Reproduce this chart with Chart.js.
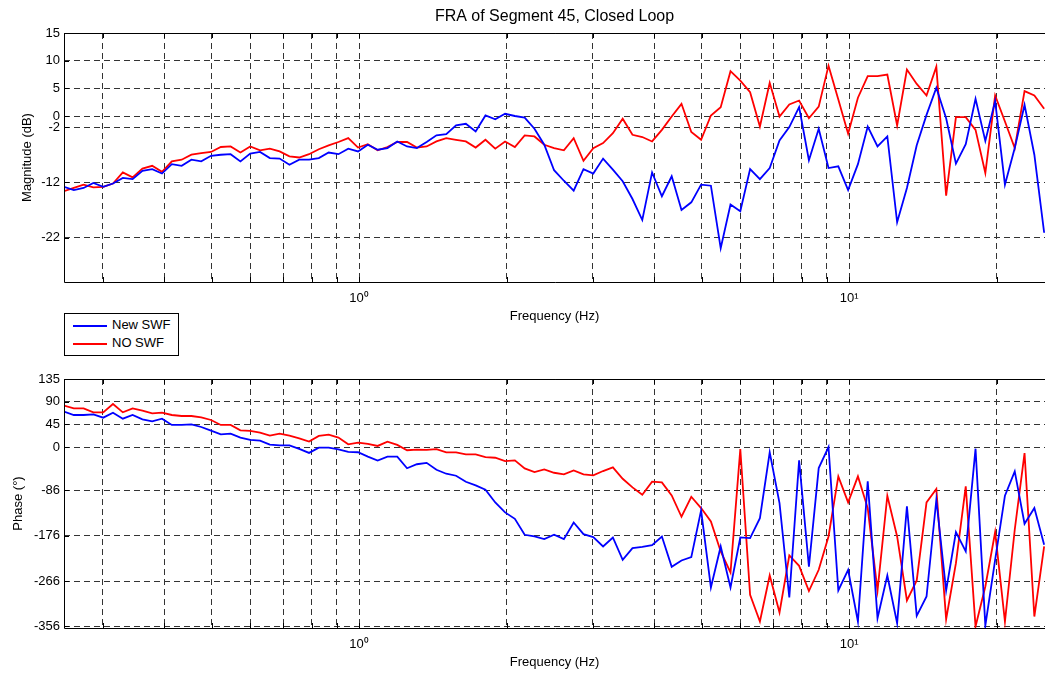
<!DOCTYPE html>
<html>
<head>
<meta charset="utf-8">
<script src="https://cdn.jsdelivr.net/npm/chart.js@4.4.1/dist/chart.umd.min.js"></script>
<style>
  html, body { margin: 0; padding: 0; background: #fff; overflow: hidden; }
  #wrap { position: relative; width: 1045px; height: 676px; overflow: hidden;
          font-family: 'Liberation Sans', Arial, sans-serif; }
  canvas { position: absolute; left: 0; }
  #magChart { top: 0; }
  #phaseChart { top: 346px; }
  #legend { position: absolute; left: 64px; top: 313px; width: 113px; height: 39px;
            border: 1px solid #000; background: #fff; font-size: 13px; color: #000;
            padding-top: 2px; box-sizing: content-box; }
  #legend .row { height: 18px; line-height: 18px; white-space: nowrap; }
  #legend .swatch { display: inline-block; width: 34px; height: 0; margin: 0 5px 0 8px;
                    vertical-align: middle; border-top: 2px solid; }
</style>
</head>
<body>
<div id="wrap">
  <canvas id="magChart" width="1045" height="330"></canvas>
  <canvas id="phaseChart" width="1045" height="330"></canvas>
  <div id="legend"></div>
</div>
<script>
// frequency points (Hz), log spaced
const freq = [
  0.2500, 0.2618, 0.2741, 0.2870, 0.3006, 0.3147, 0.3296, 0.3451, 0.3614, 0.3784,
  0.3962, 0.4149, 0.4345, 0.4549, 0.4764, 0.4988, 0.5223, 0.5469, 0.5727, 0.5997,
  0.6280, 0.6576, 0.6886, 0.7210, 0.7550, 0.7906, 0.8278, 0.8669, 0.9077, 0.9505,
  0.9953, 1.0422, 1.0913, 1.1427, 1.1966, 1.2530, 1.3120, 1.3738, 1.4386, 1.5064,
  1.5774, 1.6517, 1.7296, 1.8111, 1.8964, 1.9858, 2.0794, 2.1774, 2.2800, 2.3875,
  2.5000, 2.6178, 2.7412, 2.8704, 3.0057, 3.1473, 3.2956, 3.4510, 3.6136, 3.7839,
  3.9622, 4.1490, 4.3445, 4.5492, 4.7636, 4.9881, 5.2233, 5.4694, 5.7272, 5.9971,
  6.2797, 6.5757, 6.8856, 7.2101, 7.5499, 7.9057, 8.2783, 8.6685, 9.0770, 9.5048,
  9.9527, 10.422, 10.913, 11.427, 11.966, 12.530, 13.120, 13.738, 14.386, 15.064,
  15.774, 16.517, 17.296, 18.111, 18.964, 19.858, 20.794, 21.774, 22.800, 23.875,
  25.000
];

// magnitude (dB)
const magNew = [
  -12.8, -13.4, -13.0, -12.1, -12.8, -12.2, -11.2, -11.4, -9.9, -9.6,
  -10.4, -8.7, -9.0, -7.9, -8.2, -7.2, -7.0, -6.9, -8.2, -6.8,
  -6.5, -7.6, -7.7, -8.8, -7.9, -7.9, -7.6, -6.6, -6.9, -5.9,
  -6.4, -5.2, -6.1, -5.8, -4.6, -5.5, -5.8, -4.7, -3.5, -3.3,
  -1.7, -1.4, -2.8, 0.1, -0.6, 0.4, 0.0, -0.3, -2.3, -5.2,
  -9.8, -11.7, -13.5, -9.6, -10.4, -7.7, -9.7, -11.8, -15.0, -18.8,
  -10.2, -14.5, -10.9, -17.0, -15.6, -12.4, -12.6, -23.9, -16.0, -17.2,
  -9.6, -11.4, -9.4, -4.4, -2.0, 1.6, -8.0, -2.3, -9.4, -9.1,
  -13.4, -8.7, -1.9, -5.5, -3.7, -19.2, -13.0, -5.3, 0.2, 5.1,
  -0.4, -8.6, -5.1, 3.1, -4.5, 2.7, -12.4, -5.8, 2.0, -7.0,
  -21.1
];
const magNo = [
  -13.6, -13.0, -12.4, -12.9, -12.8, -12.2, -10.2, -11.1, -9.5, -9.0,
  -10.1, -8.2, -7.9, -7.0, -6.7, -6.5, -5.6, -5.5, -6.6, -5.5,
  -6.2, -5.9, -6.4, -7.3, -7.5, -6.9, -6.0, -5.3, -4.7, -4.0,
  -5.7, -5.1, -6.2, -5.6, -4.7, -4.7, -5.7, -5.5, -4.6, -4.0,
  -4.3, -4.6, -5.7, -4.3, -5.9, -4.6, -5.6, -3.5, -3.7, -5.2,
  -5.8, -6.2, -4.0, -8.1, -5.8, -4.9, -3.1, -0.5, -3.4, -3.8,
  -4.6, -2.5, -0.1, 2.2, -2.9, -4.3, 0.1, 1.6, 8.1, 6.4,
  4.3, -1.9, 6.0, -0.1, 2.1, 2.8, -0.4, 1.7, 9.1, 3.0,
  -3.2, 3.3, 7.2, 7.2, 7.5, -1.7, 8.4, 5.8, 3.7, 8.9,
  -14.4, -0.2, -0.2, -2.5, -10.3, 3.7, -1.0, -5.8, 4.5, 3.7,
  1.3
];

// phase (deg)
const phaseNew = [
  70.2, 63.6, 63.6, 64.9, 58.3, 68.2, 56.3, 63.6, 55.0, 51.1,
  56.3, 43.8, 43.8, 45.1, 39.8, 32.6, 25.3, 26.6, 18.7, 14.1,
  12.8, 4.9, 3.5, 3.5, -3.7, -11.6, -1.1, -1.1, -4.4, -9.7,
  -10.3, -18.9, -26.8, -18.9, -18.9, -42.0, -34.1, -31.3, -45.0, -52.9,
  -56.9, -68.8, -76.1, -84.7, -109.9, -129.7, -142.3, -174.1, -177.4, -182.7,
  -174.1, -182.7, -149.6, -172.7, -178.7, -197.2, -179.4, -223.7, -200.5, -197.9,
  -194.6, -177.4, -237.6, -225.0, -218.4, -125.7, -278.6, -197.2, -278.6, -179.4,
  -180.7, -141.0, -10.6, -111.2, -298.5, -26.5, -237.5, -41.7, 0.0, -284.6,
  -243.5, -346.1, -68.2, -339.5, -254.8, -349.4, -117.8, -334.9, -296.5, -104.6,
  -284.6, -168.8, -207.1, -3.3, -354.1, -223.7, -96.6, -48.3, -152.2, -121.1,
  -193.9
];
const phaseNo = [
  82.1, 76.8, 76.8, 68.9, 68.9, 85.4, 68.9, 76.8, 72.2, 66.9,
  68.2, 63.6, 61.6, 61.6, 59.0, 53.7, 43.8, 43.8, 33.2, 31.9,
  28.6, 22.7, 26.6, 22.7, 17.4, 10.8, 22.0, 24.7, 18.7, 5.5,
  8.8, 6.2, 2.2, 10.8, 4.2, -6.4, -5.0, -5.8, -4.0, -10.6,
  -10.6, -14.6, -14.6, -19.9, -21.2, -27.8, -26.5, -42.4, -49.6, -44.3,
  -51.0, -54.3, -46.3, -54.3, -56.3, -47.6, -40.4, -62.9, -80.1, -94.6,
  -68.8, -70.2, -96.0, -138.3, -98.6, -121.1, -147.6, -207.1, -248.8, -4.0,
  -293.2, -346.1, -254.8, -328.3, -215.1, -235.6, -285.6, -243.5, -177.4, -58.2,
  -109.9, -58.2, -121.1, -284.6, -96.6, -177.4, -304.4, -264.7, -109.9, -83.4,
  -341.5, -230.3, -78.1, -356.1, -276.6, -168.8, -346.1, -164.1, -11.9, -336.2,
  -197.2
];

const xGridTicks = [0.3, 0.4, 0.5, 0.6, 0.7, 0.8, 0.9, 1, 2, 3, 4, 5, 6, 7, 8, 9, 10, 20];
const magTicks = [15, 10, 5, 0, -2, -12, -22];
const phaseTicks = [135, 90, 45, 0, -86, -176, -266, -356];
const seriesNames = ['New SWF', 'NO SWF'];
const seriesColors = ['#0000ff', '#ff0000'];

Chart.defaults.font.family = "'Liberation Sans', Arial, sans-serif";
Chart.defaults.font.size = 13;
Chart.defaults.color = '#000';

// black box on top/left/bottom, inward tick marks and the figure title
const framePlugin = {
  id: 'frame',
  afterDraw(chart, args, opts) {
    const { ctx, chartArea: a } = chart;
    const px = v => Math.round(v) + 0.5;
    ctx.save();
    ctx.setLineDash([]);
    ctx.strokeStyle = '#000';
    ctx.lineWidth = 1;
    ctx.beginPath();
    ctx.moveTo(a.right + 1, px(a.top));
    ctx.lineTo(px(a.left), px(a.top));
    ctx.lineTo(px(a.left), px(a.bottom));
    ctx.lineTo(a.right + 1, px(a.bottom));
    xGridTicks.forEach(v => {
      const x = px(chart.scales.x.getPixelForValue(v));
      ctx.moveTo(x, a.top); ctx.lineTo(x, a.top + 5);
      ctx.moveTo(x, a.bottom); ctx.lineTo(x, a.bottom - 5);
    });
    chart.scales.y.ticks.forEach(t => {
      const y = px(chart.scales.y.getPixelForValue(t.value));
      ctx.moveTo(a.left, y); ctx.lineTo(a.left + 5, y);
    });
    ctx.stroke();
    if (opts.title) {
      ctx.fillStyle = '#000';
      ctx.font = "16px 'Liberation Sans', Arial, sans-serif";
      ctx.textAlign = 'center';
      ctx.textBaseline = 'middle';
      ctx.fillText(opts.title, (a.left + a.right) / 2, 17);
    }
    ctx.restore();
  }
};

function points(ys) {
  return freq.map((f, i) => ({ x: f, y: ys[i] }));
}

function makeChart(id, series, yMin, yMax, yTicks, yTitle, yTitlePad, title) {
  const ctx = document.getElementById(id).getContext('2d');
  return new Chart(ctx, {
    type: 'line',
    data: {
      datasets: series.map((ys, i) => ({
        label: seriesNames[i],
        data: points(ys),
        borderColor: seriesColors[i],
        borderWidth: 1.8,
        pointRadius: 0,
        tension: 0,
        fill: false
      }))
    },
    options: {
      responsive: false,
      animation: false,
      layout: { padding: { top: 33, left: 0, right: 0, bottom: 0 } },
      scales: {
        x: {
          type: 'logarithmic',
          min: 0.25,
          max: 25.1,
          afterBuildTicks: s => { s.ticks = xGridTicks.map(v => ({ value: v })); },
          afterFit: s => { s.height = 48; },
          grid: { color: '#333', lineWidth: 1, drawTicks: false },
          border: { display: false, dash: [6, 4] },
          ticks: {
            autoSkip: false, maxRotation: 0, padding: 9,
            callback: v => (v === 1 ? '10\u2070' : v === 10 ? '10\u00b9' : '')
          },
          title: { display: true, text: 'Frequency (Hz)', padding: { top: 0, bottom: 6 } }
        },
        y: {
          min: yMin,
          max: yMax,
          afterBuildTicks: s => { s.ticks = yTicks.map(v => ({ value: v })); },
          afterFit: s => { s.width = 64; },
          grid: { color: '#333', lineWidth: 1, drawTicks: false },
          border: { display: false, dash: [6, 4] },
          ticks: { autoSkip: false, padding: 4 },
          title: { display: true, text: yTitle, padding: { top: yTitlePad, bottom: 0 } }
        }
      },
      plugins: {
        legend: { display: false },
        tooltip: { enabled: false },
        frame: { title: title }
      }
    },
    plugins: [framePlugin]
  });
}

makeChart('magChart', [magNew, magNo], -30, 15, magTicks,
  'Magnitude (dB)', 20, 'FRA of Segment 45, Closed Loop');
makeChart('phaseChart', [phaseNew, phaseNo], -359, 135, phaseTicks,
  'Phase (\u00b0)', 11, null);

// legend box between the two axes
const legend = document.getElementById('legend');
seriesNames.forEach((name, i) => {
  const row = document.createElement('div');
  row.className = 'row';
  const sw = document.createElement('span');
  sw.className = 'swatch';
  sw.style.borderTopColor = seriesColors[i];
  row.appendChild(sw);
  row.appendChild(document.createTextNode(name));
  legend.appendChild(row);
});
</script>
</body>
</html>
